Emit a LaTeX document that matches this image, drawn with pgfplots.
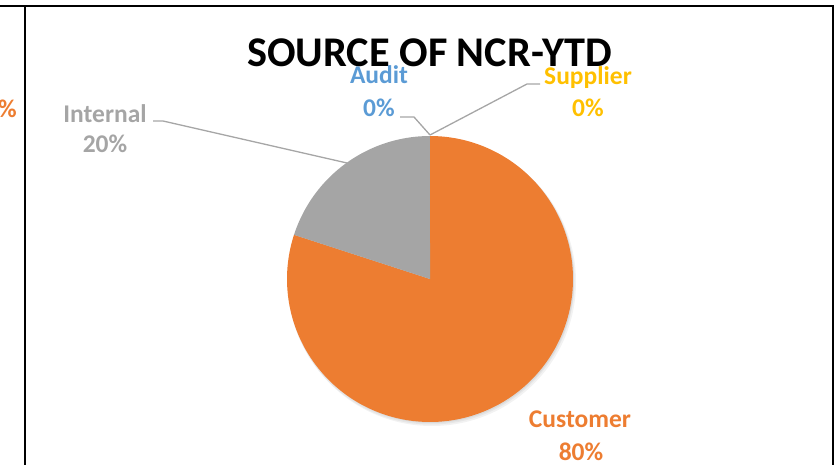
\documentclass[border=0pt]{standalone}
\usepackage{pgfplots}
\usepackage{pgfplotstable}
\pgfplotsset{compat=1.18}
\usepackage{fontspec}
\setmainfont{Carlito}
\definecolor{cOrange}{HTML}{ED7D31}
\definecolor{cGray}{HTML}{A5A5A5}
\definecolor{cBlue}{HTML}{5B9BD5}
\definecolor{cYellow}{HTML}{FFC000}
\definecolor{cLead}{HTML}{A6A6A6}

\pgfplotstableread{
label value
Customer 80
Internal 20
Audit 0
Supplier 0
}\pietable

\begin{document}
\begin{tikzpicture}
\pgfplotstablegetelem{0}{value}\of\pietable \let\vA\pgfplotsretval
\pgfplotstablegetelem{1}{value}\of\pietable \let\vB\pgfplotsretval
\pgfplotstablegetelem{2}{value}\of\pietable \let\vC\pgfplotsretval
\pgfplotstablegetelem{3}{value}\of\pietable \let\vD\pgfplotsretval
\pgfmathsetmacro\total{\vA+\vB+\vC+\vD}
\pgfmathsetmacro\aStart{90}
\pgfmathsetmacro\aA{\aStart-360*(\vA/\total)}
\pgfmathsetmacro\aB{\aA-360*(\vB/\total)}
\begin{axis}[
  width=839pt, height=465pt, scale only axis,
  xmin=0, xmax=839, ymin=0, ymax=465, y dir=reverse,
  hide axis, clip=false,
]
% soft shadow under the pie
\fill[black, opacity=0.05] (axis cs:432,282) circle[radius=144pt];
\fill[black, opacity=0.05] (axis cs:431,281) circle[radius=143.5pt];
\fill[black, opacity=0.05] (axis cs:431,280) circle[radius=143pt];
% pie sectors (angles from the table values)
\addplot[fill=cOrange, draw=none, domain=\aA:\aStart, samples=200, variable=\t]
  ({430+143*cos(t)}, {279-143*sin(t)}) -- (axis cs:430,279) -- cycle;
\addplot[fill=cGray, draw=none, domain=\aB:\aA, samples=60, variable=\t]
  ({430+143*cos(t)}, {279-143*sin(t)}) -- (axis cs:430,279) -- cycle;

% leader lines
\draw[cLead, line width=1.3pt] (axis cs:153,121) -- (axis cs:163,121) -- (axis cs:347,163);
\draw[cLead, line width=1.3pt] (axis cs:400,117) -- (axis cs:414,117) -- (axis cs:430,135);
\draw[cLead, line width=1.3pt] (axis cs:540,84) -- (axis cs:527,84) -- (axis cs:430,135);

% frame
\draw[black, line width=2pt] (axis cs:0,6) -- (axis cs:834,6);
\draw[black, line width=2pt] (axis cs:25,6) -- (axis cs:25,465);
\draw[black, line width=2pt] (axis cs:833,6) -- (axis cs:833,465);

% title
\node[anchor=base, inner sep=0pt, font=\bfseries\fontsize{42.3}{42}\selectfont]
  at (axis cs:429.5,67) {SOURCE OF NCR-YTD};

% labels
\node[anchor=base, inner sep=0pt, text=cBlue, font=\bfseries\fontsize{25.5}{25.5}\selectfont] at (axis cs:379,84) {Audit};
\node[anchor=base, inner sep=0pt, text=cBlue, font=\bfseries\fontsize{25.5}{25.5}\selectfont] at (axis cs:379,117) {0\%};
\node[anchor=base, inner sep=0pt, text=cYellow, font=\bfseries\fontsize{25.5}{25.5}\selectfont] at (axis cs:588,85) {Supplier};
\node[anchor=base, inner sep=0pt, text=cYellow, font=\bfseries\fontsize{25.5}{25.5}\selectfont] at (axis cs:588,117) {0\%};
\node[anchor=base, inner sep=0pt, text=cGray, font=\bfseries\fontsize{25.5}{25.5}\selectfont] at (axis cs:105,123) {Internal};
\node[anchor=base, inner sep=0pt, text=cGray, font=\bfseries\fontsize{25.5}{25.5}\selectfont] at (axis cs:105,153) {20\%};
\node[anchor=base, inner sep=0pt, text=cOrange, font=\bfseries\fontsize{25.5}{25.5}\selectfont] at (axis cs:580,428) {Customer};
\node[anchor=base, inner sep=0pt, text=cOrange, font=\bfseries\fontsize{25.5}{25.5}\selectfont] at (axis cs:581,460) {80\%};
\node[anchor=base east, inner sep=0pt, text=cOrange, font=\bfseries\fontsize{25.5}{25.5}\selectfont] at (axis cs:17,118) {\%};
\end{axis}
\pgfresetboundingbox
\useasboundingbox (0,0) rectangle (839pt,465pt);
\end{tikzpicture}
\end{document}
